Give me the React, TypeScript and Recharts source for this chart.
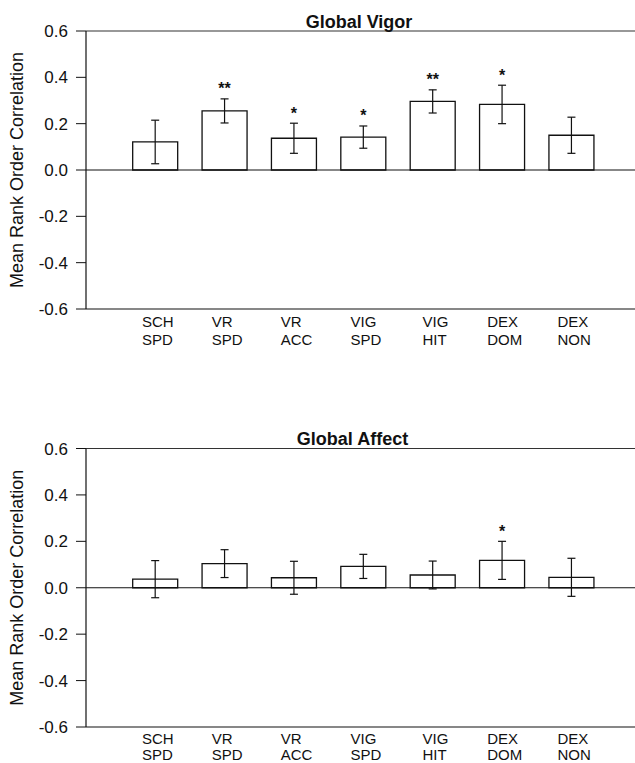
import React from "react";
import { BarChart, Bar, XAxis, YAxis, ErrorBar, ReferenceLine, LabelList } from "recharts";

// measures in both panels
const categories = ["SCH SPD", "VR SPD", "VR ACC", "VIG SPD", "VIG HIT", "DEX DOM", "DEX NON"];
const slots = [1, 2, 3, 4, 5, 6, 7];

const vigorMeans = [0.121, 0.255, 0.137, 0.142, 0.296, 0.283, 0.15];
const vigorErrors = [0.094, 0.052, 0.065, 0.048, 0.05, 0.083, 0.078];
const vigorStars = ["", "**", "*", "*", "**", "*", ""];

const affectMeans = [0.037, 0.104, 0.043, 0.092, 0.055, 0.118, 0.045];
const affectErrors = [0.08, 0.06, 0.071, 0.052, 0.06, 0.082, 0.082];
const affectStars = ["", "", "", "", "", "*", ""];

const yTicks = [-0.6, -0.4, -0.2, 0, 0.2, 0.4, 0.6];

const FONT = "'Liberation Sans', Arial, Helvetica, sans-serif";
const INK = "#111";

let measureCtx: CanvasRenderingContext2D | null = null;
function textWidth(s: string, font: string) {
  if (!measureCtx && typeof document !== "undefined") {
    measureCtx = document.createElement("canvas").getContext("2d");
  }
  if (!measureCtx) return s.length * 9;
  measureCtx.font = font;
  return measureCtx.measureText(s).width;
}

// two-line category label, lines left-aligned as a block centred under the bar
const makeCategoryTick = (lineOffsets: number[]) => (props: any) => {
  const { x, y, payload } = props;
  const label = categories[payload.value - 1];
  if (!label) return <g />;
  const lines = label.split(" ");
  const w = Math.max(...lines.map((l) => textWidth(l, `15px ${FONT}`)));
  const x0 = Number(x) - w / 2 + 2.5;
  return (
    <g>
      {lines.map((l, k) => (
        <text key={k} x={x0} y={Number(y) + lineOffsets[k]} fontSize={15} fontFamily={FONT} fill={INK}>
          {l}
        </text>
      ))}
    </g>
  );
};

const starLabel = (means: number[], errors: number[], stars: string[]) => (props: any) => {
  const vb = props.viewBox && props.viewBox.x != null ? props.viewBox : props;
  const i = props.index;
  if (i == null || !stars[i]) return null;
  const x = Number(vb.x);
  const y = Number(vb.y);
  const w = Number(vb.width);
  const h = Number(vb.height);
  const perUnit = h / means[i];
  const errTop = y - errors[i] * perUnit;
  return (
    <text
      x={x + w / 2}
      y={errTop - 4.5}
      textAnchor="middle"
      fontSize={16}
      fontWeight="bold"
      fontFamily={FONT}
      fill={INK}
    >
      {stars[i]}
    </text>
  );
};

interface PanelProps {
  title: string;
  titleX: number;
  means: number[];
  errors: number[];
  stars: string[];
  height: number;
  top: number;
  plotTop: number;
  axisHeight: number;
  lineOffsets: number[];
}

function Panel({ title, titleX, means, errors, stars, height, top, plotTop, axisHeight, lineOffsets }: PanelProps) {
  const data = slots.map((s, i) => ({ slot: s, mean: means[i], err: errors[i] }));
  const CategoryTick = makeCategoryTick(lineOffsets);

  return (
    <div style={{ position: "absolute", left: 0, top, width: 641, height }}>
      <BarChart
        width={641}
        height={height}
        data={data}
        margin={{ top: plotTop, right: 0, bottom: 0, left: 0 }}
      >
        <XAxis
          dataKey="slot"
          type="number"
          domain={[0, 8]}
          ticks={slots}
          tickLine={false}
          tickSize={0}
          tickMargin={0}
          height={axisHeight}
          axisLine={{ stroke: INK, strokeWidth: 1.2 }}
          tick={CategoryTick}
          interval={0}
        />
        <YAxis
          width={86}
          domain={[-0.6, 0.6]}
          ticks={yTicks}
          tickFormatter={(v) => Number(v).toFixed(1)}
          tickSize={10}
          tickMargin={8}
          axisLine={{ stroke: INK, strokeWidth: 1.2 }}
          tickLine={{ stroke: INK, strokeWidth: 1 }}
          tick={{ fill: INK, fontSize: 17, fontFamily: FONT }}
          label={{
            content: (p: any) => {
              const vb = p.viewBox || {};
              const cy = Number(vb.y) + Number(vb.height) / 2;
              const cx = 23;
              return (
                <text
                  x={cx}
                  y={cy}
                  transform={`rotate(-90 ${cx} ${cy})`}
                  textAnchor="middle"
                  fontSize={18}
                  fontFamily={FONT}
                  fill={INK}
                >
                  Mean Rank Order Correlation
                </text>
              );
            },
          }}
        />
        <ReferenceLine
          y={0.6}
          stroke="#333"
          strokeWidth={1.2}
          label={{
            content: (p: any) => {
              const vb = p.viewBox || {};
              return (
                <text
                  x={titleX}
                  y={Number(vb.y) - 3.5}
                  textAnchor="middle"
                  fontSize={18}
                  fontWeight="bold"
                  fontFamily={FONT}
                  fill={INK}
                >
                  {title}
                </text>
              );
            },
          }}
        />
        <ReferenceLine y={0} stroke={INK} strokeWidth={1.2} />
        <Bar dataKey="mean" fill="#fff" stroke={INK} strokeWidth={1.3} barSize={45} isAnimationActive={false}>
          <ErrorBar dataKey="err" width={4} stroke={INK} strokeWidth={1.2} direction="y" isAnimationActive={false} />
          <LabelList dataKey="mean" content={starLabel(means, errors, stars)} />
        </Bar>
      </BarChart>
    </div>
  );
}

export default function App() {
  return (
    <div
      style={{
        position: "absolute",
        left: 0,
        top: 0,
        width: 635,
        height: 763,
        overflow: "hidden",
        background: "#fff",
        fontFamily: FONT,
      }}
    >
      <Panel
        title="Global Vigor"
        titleX={359}
        means={vigorMeans}
        errors={vigorErrors}
        stars={vigorStars}
        height={355}
        top={0}
        plotTop={31}
        axisHeight={46}
        lineOffsets={[17.5, 35.5]}
      />
      <Panel
        title="Global Affect"
        titleX={352.5}
        means={affectMeans}
        errors={affectErrors}
        stars={affectStars}
        height={363}
        top={400}
        plotTop={48.5}
        axisHeight={36}
        lineOffsets={[17, 32.5]}
      />
    </div>
  );
}
